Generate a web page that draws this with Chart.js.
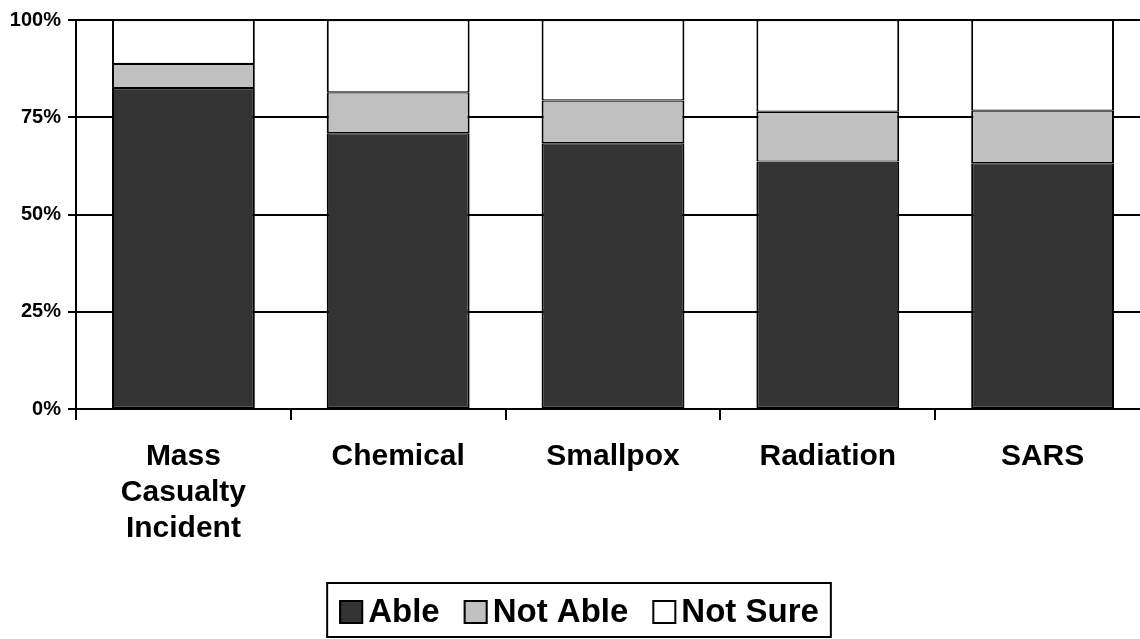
<!DOCTYPE html>
<html>
<head>
<meta charset="utf-8">
<script src="https://cdn.jsdelivr.net/npm/chart.js@4"></script>
<style>
  html, body { margin: 0; padding: 0; background: #fff; overflow: hidden; }
  #wrap { width: 1140px; height: 639px; overflow: hidden; }
</style>
</head>
<body>
<div id="wrap"><canvas id="chart" width="1152" height="639"></canvas></div>
<script>
// categories and percentages
const categories = [['Mass', 'Casualty', 'Incident'], 'Chemical', 'Smallpox', 'Radiation', 'SARS'];
const able = [82.5, 70.9, 68.3, 63.6, 63.2];
const notAble = [6.2, 10.5, 11.0, 12.8, 13.5];
const notSure = [11.3, 18.6, 20.7, 23.6, 23.3];
const yTicks = [0, 25, 50, 75, 100];

const FONT = '"Liberation Sans", Arial, sans-serif';
const LEGEND_SPACE = 56;

// legend drawn by hand: chart.js puts too much room between box and text
const boxLegend = {
  id: 'boxLegend',
  afterDraw(chart) {
    const ctx = chart.ctx;
    const sets = chart.data.datasets;
    const box = 24, gap = 5, itemGap = 24, pad = 12;
    const midY = 612, centerX = 579;
    ctx.save();
    ctx.font = 'bold 33px ' + FONT;
    const widths = sets.map(d => ctx.measureText(d.label).width);
    let total = pad * 2 + itemGap * (sets.length - 1);
    widths.forEach(w => { total += box + gap + w; });
    let x = centerX - total / 2;
    ctx.strokeStyle = '#000';
    ctx.lineWidth = 2;
    ctx.strokeRect(x, 583, total, 54);
    x += pad;
    ctx.textBaseline = 'middle';
    sets.forEach((d, i) => {
      ctx.fillStyle = d.backgroundColor;
      ctx.fillRect(x, midY - box / 2, box, box);
      ctx.lineWidth = 2;
      ctx.strokeStyle = '#000';
      ctx.strokeRect(x + 1, midY - box / 2 + 1, box - 2, box - 2);
      x += box + gap;
      ctx.fillStyle = '#000';
      ctx.fillText(d.label, x, midY + 1);
      x += widths[i] + itemGap;
    });
    ctx.restore();
  }
};

const bar = (label, data, color) => ({
  label: label,
  data: data,
  backgroundColor: color,
  borderColor: '#000',
  borderWidth: { top: 1.2, bottom: 1.2, left: 2, right: 2 },
  borderSkipped: false,
  inflateAmount: 0,
  barPercentage: 0.665,
  categoryPercentage: 1
});

new Chart(document.getElementById('chart'), {
  type: 'bar',
  data: {
    labels: categories,
    datasets: [
      bar('Able', able, '#333333'),
      bar('Not Able', notAble, '#c0c0c0'),
      bar('Not Sure', notSure, '#ffffff')
    ]
  },
  options: {
    responsive: false,
    animation: false,
    layout: { padding: { top: 20, right: 2, bottom: LEGEND_SPACE, left: 0 } },
    plugins: {
      tooltip: { enabled: false },
      legend: { display: false }
    },
    scales: {
      x: {
        stacked: true,
        afterFit: s => { s.height = s.chart.height - 409 - LEGEND_SPACE; },
        grid: { drawOnChartArea: false, drawTicks: true, tickLength: 11, color: '#000', lineWidth: 2, offset: true },
        border: { display: true, color: '#000', width: 2 },
        ticks: {
          color: '#000',
          padding: 19,
          maxRotation: 0,
          autoSkip: false,
          font: { family: FONT, size: 30, weight: 'bold', lineHeight: 1.19 }
        }
      },
      y: {
        stacked: true,
        min: 0,
        max: 100,
        afterFit: s => { s.width = 76; },
        afterBuildTicks: s => { s.ticks = yTicks.map(v => ({ value: v })); },
        grid: { color: '#000', lineWidth: 2, tickLength: 8 },
        border: { display: true, color: '#000', width: 2 },
        ticks: {
          color: '#000',
          padding: 7,
          font: { family: FONT, size: 20, weight: 'bold' },
          callback: v => v + '%'
        }
      }
    }
  },
  plugins: [boxLegend]
});
</script>
</body>
</html>
